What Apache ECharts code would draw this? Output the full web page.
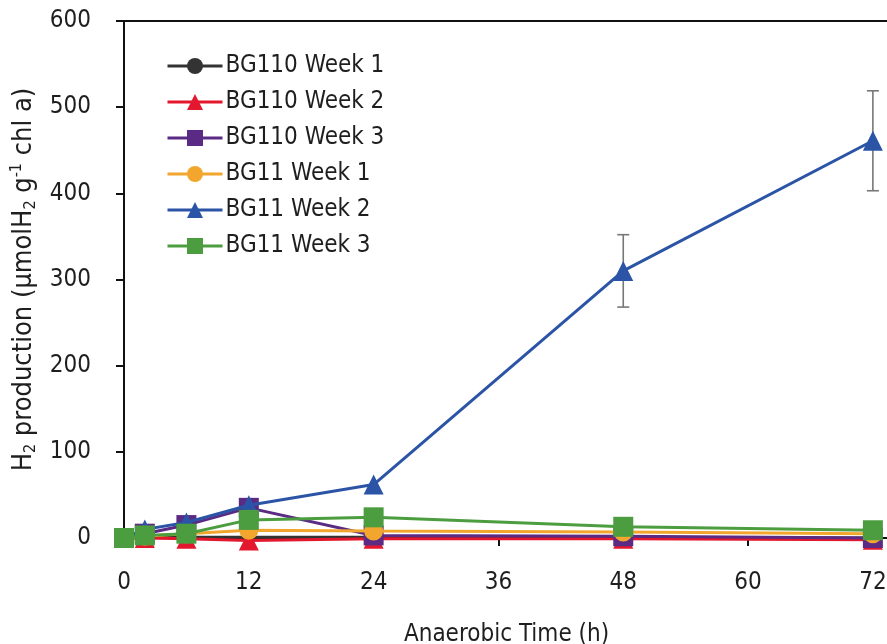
<!DOCTYPE html>
<html>
<head>
<meta charset="utf-8">
<script src="https://cdn.jsdelivr.net/npm/echarts@6/dist/echarts.min.js"></script>
<style>html,body{margin:0;padding:0;background:#fff}#c{width:887px;height:644px}</style>
</head>
<body>
<div id="c"></div>
<script>
const times = [0, 2, 6, 12, 24, 48, 72];
const xTicks = [0, 12, 24, 36, 48, 60, 72];
const seriesNames = ['BG110 Week 1', 'BG110 Week 2', 'BG110 Week 3', 'BG11 Week 1', 'BG11 Week 2', 'BG11 Week 3'];
const bg110w1 = [0, 1, 1, 1, 1, 1, 0];
const bg110w2 = [0, 0, -1, -3, -1, -1, -2];
const bg110w3 = [0, 5, 15, 35, 3, 2, 0];
const bg11w1 = [0, 2, 5, 9, 8, 7, 5];
const bg11w2 = [0, 10, 18, 38, 62, 310, 461];
const bg11w2Err = [0, 0, 0, 0, 0, 42, 58];
const bg11w3 = [0, 3, 5, 21, 24, 13, 9];

const FONT = '"DejaVu Sans Condensed", "DejaVu Sans"';
const TXT = '#1e1e1e';
const colors = ['#333333', '#e3172d', '#5a2a84', '#f2a62e', '#2b54a6', '#4c9d3f'];
const symbols = ['circle', 'triangle', 'rect', 'circle', 'triangle', 'rect'];
const sizes = [12, 20, 20, 19, 20, 20];
const values = [bg110w1, bg110w2, bg110w3, bg11w1, bg11w2, bg11w3];

const series = values.map((v, i) => ({
  name: seriesNames[i],
  type: 'line',
  data: times.map((t, j) => [t, v[j]]),
  symbol: symbols[i],
  symbolSize: sizes[i],
  clip: false,
  z: 3 + i,
  lineStyle: { color: colors[i], width: 3 },
  itemStyle: { color: colors[i] },
  emphasis: { disabled: true }
}));

series.push({
  type: 'custom',
  name: 'err',
  z: 2,
  clip: false,
  data: times.map((t, j) => [t, bg11w2[j] - bg11w2Err[j], bg11w2[j] + bg11w2Err[j]]).filter((d, j) => bg11w2Err[j] > 0),
  renderItem: function (params, api) {
    const lo = api.coord([api.value(0), api.value(1)]);
    const hi = api.coord([api.value(0), api.value(2)]);
    const w = 6;
    const st = { stroke: '#777', lineWidth: 1.6 };
    return {
      type: 'group',
      children: [
        { type: 'line', shape: { x1: lo[0], y1: lo[1], x2: hi[0], y2: hi[1] }, style: st },
        { type: 'line', shape: { x1: lo[0] - w, y1: lo[1], x2: lo[0] + w, y2: lo[1] }, style: st },
        { type: 'line', shape: { x1: hi[0] - w, y1: hi[1], x2: hi[0] + w, y2: hi[1] }, style: st }
      ]
    };
  }
});

const chart = echarts.init(document.getElementById('c'), null, { renderer: 'canvas' });
chart.setOption({
  animation: false,
  backgroundColor: '#fff',
  textStyle: { fontFamily: FONT },
  grid: { left: 124, right: -2, top: 21, bottom: 106, containLabel: false, outerBoundsMode: 'none',
          show: true, borderColor: '#111', borderWidth: 2, backgroundColor: 'transparent' },
  legend: {
    data: seriesNames,
    orient: 'vertical',
    left: 166,
    top: 54,
    padding: 0,
    itemWidth: 55,
    itemHeight: 20,
    itemGap: 12,
    lineStyle: { width: 3 },
    textStyle: { fontFamily: FONT, fontSize: 24, color: TXT, padding: [0, 0, 0, -2] }
  },
  xAxis: {
    type: 'value',
    min: 0,
    max: 73.55,
    name: 'Anaerobic Time (h)',
    nameLocation: 'middle',
    nameGap: 85,
    nameTextStyle: { fontFamily: FONT, fontSize: 24, color: TXT },
    axisLine: { onZero: false, lineStyle: { color: '#111', width: 2 } },
    axisTick: { show: true, inside: false, length: 8, customValues: xTicks, lineStyle: { color: '#111', width: 2 } },
    axisLabel: { customValues: xTicks, margin: 33, fontFamily: FONT, fontSize: 24, color: TXT },
    splitLine: { show: false }
  },
  yAxis: {
    type: 'value',
    min: 0,
    max: 600,
    interval: 100,
    name: '{n|H}{sub|2}{n| production (μmolH}{sub|2}{n| g}{sup|-1}{n| chl a)}',
    nameLocation: 'middle',
    nameGap: 83,
    nameRotate: 90,
    nameTextStyle: {
      rich: {
        n: { fontFamily: FONT, fontSize: 27, color: TXT, lineHeight: 30 },
        sub: { fontFamily: FONT, fontSize: 16, color: TXT, lineHeight: 10, verticalAlign: 'bottom' },
        sup: { fontFamily: FONT, fontSize: 16, color: TXT, lineHeight: 10, verticalAlign: 'top' }
      }
    },
    axisLine: { show: true, lineStyle: { color: '#111', width: 2 } },
    axisTick: { show: true, inside: false, length: 8, lineStyle: { color: '#111', width: 2 } },
    axisLabel: { margin: 33, fontFamily: FONT, fontSize: 24, color: TXT },
    splitLine: { show: false }
  },
  series: series
});
</script>
</body>
</html>
